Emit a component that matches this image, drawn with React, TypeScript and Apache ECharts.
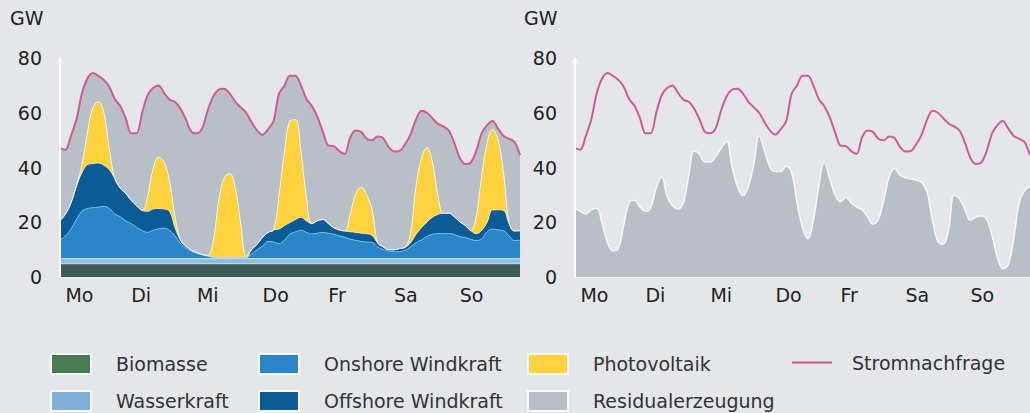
import React, { useEffect, useRef } from 'react';
import * as echarts from 'echarts';

// x axis: hours of the week, 2-hour steps (0 … 168)
const hours = Array.from({ length: 85 }, (_, i) => i * 2);
const dayLabels = ['Mo', 'Di', 'Mi', 'Do', 'Fr', 'Sa', 'So'];

// GW values, index i = hour 2*i
const biomasse = [
  4.8, 4.8, 4.8, 4.8, 4.8, 4.8, 4.8, 4.8, 4.8, 4.8,
  4.8, 4.8, 4.8, 4.8, 4.8, 4.8, 4.8, 4.8, 4.8, 4.8,
  4.8, 4.8, 4.8, 4.8, 4.8, 4.8, 4.8, 4.8, 4.8, 4.8,
  4.8, 4.8, 4.8, 4.8, 4.8, 4.8, 4.8, 4.8, 4.8, 4.8,
  4.8, 4.8, 4.8, 4.8, 4.8, 4.8, 4.8, 4.8, 4.8, 4.8,
  4.8, 4.8, 4.8, 4.8, 4.8, 4.8, 4.8, 4.8, 4.8, 4.8,
  4.8, 4.8, 4.8, 4.8, 4.8, 4.8, 4.8, 4.8, 4.8, 4.8,
  4.8, 4.8, 4.8, 4.8, 4.8, 4.8, 4.8, 4.8, 4.8, 4.8,
  4.8, 4.8, 4.8, 4.8, 4.8,
];
const wasserkraft = [
  1.9, 1.9, 1.9, 1.9, 1.9, 1.9, 1.9, 1.9, 1.9, 1.9,
  1.9, 1.9, 1.9, 1.9, 1.9, 1.9, 1.9, 1.9, 1.9, 1.9,
  1.9, 1.9, 1.9, 1.9, 1.9, 1.9, 1.9, 1.9, 1.9, 1.9,
  1.9, 1.9, 1.9, 1.9, 1.9, 1.9, 1.9, 1.9, 1.9, 1.9,
  1.9, 1.9, 1.9, 1.9, 1.9, 1.9, 1.9, 1.9, 1.9, 1.9,
  1.9, 1.9, 1.9, 1.9, 1.9, 1.9, 1.9, 1.9, 1.9, 1.9,
  1.9, 1.9, 1.9, 1.9, 1.9, 1.9, 1.9, 1.9, 1.9, 1.9,
  1.9, 1.9, 1.9, 1.9, 1.9, 1.9, 1.9, 1.9, 1.9, 1.9,
  1.9, 1.9, 1.9, 1.9, 1.9,
];
const onshore = [
  6.8, 8.3, 10.8, 14.3, 17.3, 18.3, 18.6, 18.8, 19.1, 18.3,
  16.3, 15.3, 13.8, 12.8, 11.4, 10.3, 9.6, 10.4, 10.9, 11.1,
  10.3, 8.3, 5.6, 3.8, 2.7, 2.0, 1.4, 0.9, 0.5, 0.4,
  0.4, 0.4, 0.4, 0.4, 0.4, 1.8, 3.3, 4.6, 6.3, 6.1,
  5.5, 6.8, 9.0, 9.8, 10.4, 9.6, 9.0, 9.3, 9.6, 9.3,
  8.9, 8.3, 7.8, 7.1, 6.7, 6.3, 6.1, 5.9, 4.3, 3.3,
  2.8, 2.5, 2.6, 3.0, 4.3, 5.8, 6.8, 8.1, 8.9, 9.1,
  9.2, 9.2, 8.8, 8.1, 7.7, 7.1, 6.6, 7.3, 9.8, 10.8,
  10.5, 10.2, 8.3, 6.6, 6.8,
];
const offshore = [
  7.0, 8.0, 9.5, 12.0, 14.0, 16.0, 16.1, 16.1, 15.0, 14.2,
  13.0, 10.5, 10.0, 8.5, 7.9, 7.3, 7.7, 7.7, 7.4, 7.0,
  7.0, 3.0, 1.2, 0.7, 0.4, 0.2, 0.1, 0.1, 0.1, 0.1,
  0.1, 0.1, 0.1, 0.1, 0.1, 1.5, 2.0, 3.2, 3.3, 4.4,
  5.3, 5.3, 4.2, 4.5, 4.7, 4.2, 3.8, 4.5, 4.7, 3.5,
  2.4, 2.2, 2.3, 2.7, 2.9, 3.0, 3.0, 2.6, 1.5, 1.0,
  0.5, 0.7, 1.1, 1.1, 1.5, 3.0, 4.5, 5.2, 6.2, 7.0,
  7.4, 7.4, 6.5, 5.4, 4.4, 3.2, 2.5, 3.0, 3.5, 7.0,
  7.3, 7.4, 4.5, 3.5, 3.4,
];
const photovoltaik = [
  0, 0, 0, 0.5, 3, 11.5, 20.5, 22.4, 19.5, 7.5,
  0, 0, 0, 0, 0, 0, 5.5, 14.7, 18.7, 17.2,
  11, 4, 0, 0, 0, 0, 0, 0.2, 6, 21,
  29, 30.6, 25.4, 12.4, 0.5, 0, 0, 0, 0, 0,
  12.5, 27.2, 37.1, 36.5, 24.2, 8.5, 0, 0, 0, 0,
  0, 0, 0, 6.5, 14.2, 16.8, 14.2, 9.3, 0, 0,
  0, 0, 0, 0, 3.5, 17.5, 25.5, 27.3, 20.2, 7.2,
  0, 0, 0, 0, 0, 0, 6.2, 20, 29, 29.5,
  25.5, 13.6, 0.5, 0, 0,
];
const stromnachfrage = [
  47, 46.5, 51.5, 57.5, 67, 72.5, 74.5, 73.5, 72, 69.5,
  65, 62.5, 58, 52.5, 52.5, 60, 66.4, 69, 70, 67.3,
  64.8, 64, 61.5, 57.5, 53, 52.5, 54.5, 61, 66, 68.5,
  68.8, 67, 64, 62, 60, 56.5, 53.5, 52, 54, 57,
  67, 70, 73.5, 73.5, 70, 65, 62.5, 58.5, 53, 48,
  47.8, 46, 45, 51, 53.5, 53, 50.5, 50, 51.3, 50.8,
  47.5, 45.8, 46, 48.5, 52, 57.5, 60.7, 60, 58, 56,
  55, 53.5, 49, 43.5, 41.3, 41.8, 46, 52.5, 55.5, 57,
  54.2, 51.5, 50.5, 49.3, 44.5,
];
// right panel: residual generation
const residualerzeugung = [
  25, 24, 23, 24.5, 25, 19.5, 12.5, 9.5, 10.5, 19,
  27, 28, 25.5, 24, 25.4, 32.5, 36.5, 29.5, 26, 24.8,
  27, 37, 46, 44.8, 42, 42, 44, 47, 49.5, 40,
  33, 29.7, 33, 41, 51.5, 46, 40, 38.5, 38.5, 40.5,
  38, 27, 18, 14, 20.5, 33, 42, 36, 30, 27.5,
  29, 27, 25.5, 24.5, 22, 19.3, 21, 28, 36.5, 39.5,
  37.2, 36.2, 35.8, 35.3, 34.5, 31, 20.5, 13, 12, 17.5,
  30, 28.5, 24.5, 20.7, 21.8, 22.3, 21, 15, 7, 3,
  4.5, 14, 27, 31.6, 33,
];

const C = {
  bg: '#e4e6ea',
  bio: '#3e5c53',
  bioLegend: '#4b7b50',
  wasser: '#8cbde2',
  wasserLegend: '#7eaed6',
  on: '#2a86c8',
  off: '#0b5b96',
  pv: '#fdd23c',
  res: '#b9bfc6',
  demand: '#cf5b94',
  text: '#222',
};
const FONT = 'DejaVu Sans';

// grey in the left panel fills up to the demand line
const residualLeft = stromnachfrage.map((d, i) =>
  Math.max(0, d - biomasse[i] - wasserkraft[i] - onshore[i] - offshore[i] - photovoltaik[i])
);

const arrow = 'path://M0,10 L5,0 L10,10 L8.4,10 L5,3.2 L1.6,10 Z';

function xAxis(gridIndex: number) {
  return {
    type: 'category',
    gridIndex,
    data: hours,
    boundaryGap: false,
    axisLine: { show: true, lineStyle: { color: '#f4f5f7', width: 1.5 } },
    axisTick: { show: false },
    splitLine: { show: false },
    axisLabel: {
      interval: (i: number) => i % 12 === 1,
      formatter: (_v: any, i: number) => dayLabels[Math.floor(i / 12)] ?? '',
      align: 'left',
      margin: 8,
      color: C.text,
      fontSize: 19,
      fontFamily: FONT,
    },
  };
}
function yAxis(gridIndex: number) {
  return {
    type: 'value',
    gridIndex,
    min: 0,
    max: 80,
    interval: 20,
    z: 10,
    axisLine: {
      show: true,
      symbol: ['none', arrow],
      symbolSize: [11, 7],
      symbolOffset: [0, -2],
      lineStyle: { color: '#ffffff', width: 2 },
    },
    axisTick: { show: false },
    splitLine: { show: false },
    axisLabel: { margin: 18, color: C.text, fontSize: 19, fontFamily: FONT },
  };
}

function area(name: string, data: number[], color: string, border: string) {
  return {
    name,
    type: 'line',
    stack: 'L',
    data,
    xAxisIndex: 0,
    yAxisIndex: 0,
    smooth: 0.4,
    symbol: 'none',
    lineStyle: { color: border, width: 1 },
    itemStyle: { color },
    areaStyle: { color, opacity: 1 },
  };
}

const legendBase = {
  orient: 'vertical',
  padding: 0,
  itemWidth: 40,
  itemHeight: 20,
  itemGap: 15,
  icon: 'rect',
  selectedMode: false,
  textStyle: { color: '#333', fontSize: 19, fontFamily: FONT, padding: [0, 0, 0, 20] },
};
const sw = (name: string, color: string) => ({
  name,
  icon: 'rect',
  itemStyle: { color, borderColor: '#f7f8fa', borderWidth: 2 },
});

export default function App() {
  const ref = useRef<HTMLDivElement>(null);
  useEffect(() => {
    if (!ref.current) return;
    const chart = echarts.init(ref.current, undefined, { renderer: 'svg' });
    chart.setOption({
      animation: false,
      backgroundColor: C.bg,
      title: [
        { text: 'GW', left: 5, top: 3, textStyle: { fontSize: 19, fontWeight: 'normal', fontFamily: FONT, color: C.text } },
        { text: 'GW', left: 519, top: 3, textStyle: { fontSize: 19, fontWeight: 'normal', fontFamily: FONT, color: C.text } },
      ],
      grid: [
        { left: 60, top: 58, width: 460, height: 219 },
        { left: 575, top: 58, width: 460, height: 219 },
      ],
      xAxis: [xAxis(0), xAxis(1)],
      yAxis: [yAxis(0), yAxis(1)],
      legend: [
        { ...legendBase, left: 50, top: 353, data: [sw('Biomasse', C.bioLegend), sw('Wasserkraft', C.wasserLegend)] },
        { ...legendBase, left: 258, top: 353, data: [sw('Onshore Windkraft', C.on), sw('Offshore Windkraft', C.off)] },
        { ...legendBase, left: 527, top: 353, data: [sw('Photovoltaik', C.pv), sw('Residualerzeugung', C.res)] },
        {
          ...legendBase,
          left: 792,
          top: 353,
          textStyle: { ...legendBase.textStyle, padding: [0, 0, 0, 15] },
          data: [{ name: 'Stromnachfrage', icon: 'path://M0,9 L40,9 L40,11 L0,11 Z', itemStyle: { color: C.demand } }],
        },
      ],
      series: [
        area('Biomasse', biomasse, C.bio, 'rgba(255,255,255,0.6)'),
        area('Wasserkraft', wasserkraft, C.wasser, 'rgba(255,255,255,0.8)'),
        area('Onshore Windkraft', onshore, C.on, '#7dbbe8'),
        area('Offshore Windkraft', offshore, C.off, 'rgba(255,255,255,0.55)'),
        area('Photovoltaik', photovoltaik, C.pv, 'rgba(255,255,255,0.8)'),
        area('Residualerzeugung', residualLeft, C.res, C.res),
        {
          name: 'Stromnachfrage',
          type: 'line',
          data: stromnachfrage,
          xAxisIndex: 0,
          yAxisIndex: 0,
          smooth: 0.3,
          symbol: 'none',
          z: 5,
          lineStyle: { color: C.demand, width: 2 },
          itemStyle: { color: C.demand },
        },
        {
          name: 'Residualerzeugung',
          type: 'line',
          data: residualerzeugung,
          xAxisIndex: 1,
          yAxisIndex: 1,
          smooth: 0.4,
          symbol: 'none',
          lineStyle: { color: 'rgba(255,255,255,0.8)', width: 1.5 },
          itemStyle: { color: C.res },
          areaStyle: { color: C.res, opacity: 1 },
        },
        {
          name: 'Stromnachfrage',
          type: 'line',
          data: stromnachfrage,
          xAxisIndex: 1,
          yAxisIndex: 1,
          smooth: 0.3,
          symbol: 'none',
          z: 5,
          lineStyle: { color: C.demand, width: 2 },
          itemStyle: { color: C.demand },
        },
      ],
    });
    return () => chart.dispose();
  }, []);
  return (
    <div
      ref={ref}
      style={{ position: 'fixed', left: 0, top: 0, width: 1030, height: 413, background: C.bg }}
    />
  );
}
